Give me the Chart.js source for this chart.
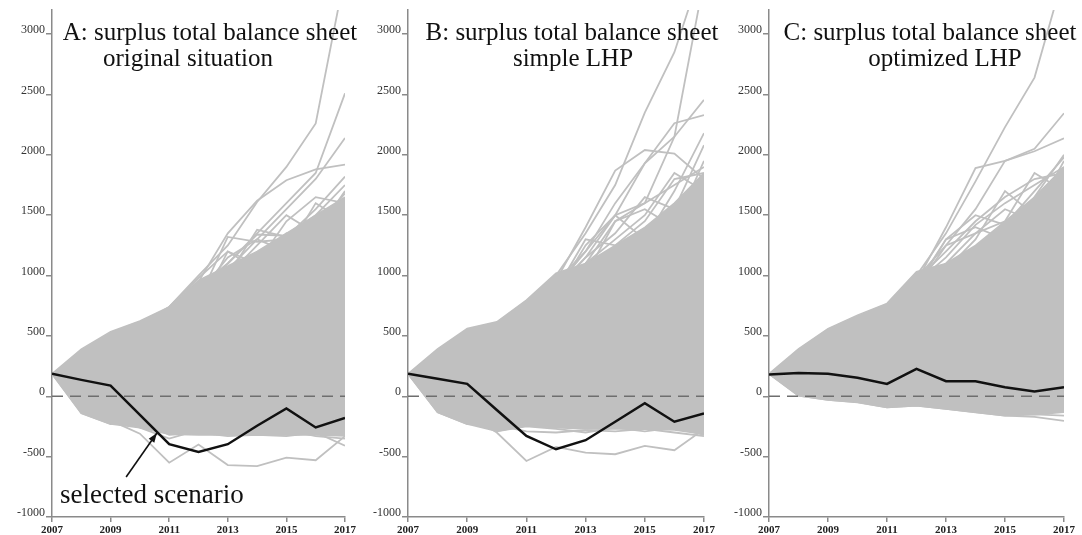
<!DOCTYPE html>
<html>
<head>
<meta charset="utf-8">
<script src="https://cdn.jsdelivr.net/npm/chart.js@4.4.1/dist/chart.umd.min.js"></script>
<style>
  body { margin: 0; background: #fff; width: 1082px; height: 535px; position: relative; overflow: hidden; }
  canvas { position: absolute; top: 0; }
</style>
</head>
<body>
<canvas id="chartA" width="380" height="535" style="left:0px"></canvas>
<canvas id="chartB" width="375" height="535" style="left:355px"></canvas>
<canvas id="chartC" width="367" height="535" style="left:715px"></canvas>
<script>
const years = [2007, 2008, 2009, 2010, 2011, 2012, 2013, 2014, 2015, 2016, 2017];
const xTicks = [2007, 2009, 2011, 2013, 2015, 2017];
const yTicks = [-1000, -500, 0, 500, 1000, 1500, 2000, 2500, 3000];

// A: original situation
const selectedA = [186, 136, 89, -154, -397, -461, -397, -244, -100, -258, -180];
const bandTopA = [186, 390, 535, 625, 740, 960, 1080, 1200, 1350, 1500, 1650];
const bandBottomA = [186, -140, -230, -260, -314, -320, -320, -320, -320, -320, -328];
const spreadA = [
  [186, 300, 450, 600, 740, 1000, 1250, 1610, 1900, 2260, 3500],
  [186, 320, 470, 560, 700, 900, 1100, 1350, 1600, 1850, 2510],
  [186, 280, 420, 540, 680, 880, 1050, 1300, 1550, 1800, 2140],
  [186, 300, 440, 560, 720, 950, 1350, 1620, 1790, 1880, 1920],
  [186, 290, 420, 520, 650, 820, 1000, 1380, 1320, 1550, 1820],
  [186, 260, 400, 500, 620, 800, 1320, 1280, 1300, 1400, 1680],
  [186, 270, 380, 480, 600, 760, 950, 1150, 1350, 1250, 1500],
  [186, 250, 360, 470, 580, 720, 1200, 1050, 1250, 1450, 1300],
  [186, 280, 430, 550, 700, 900, 1100, 1340, 1330, 1500, 1750],
  [186, 300, 450, 580, 740, 980, 1200, 1100, 1450, 1650, 1600],
  [186, 270, 400, 520, 660, 850, 1150, 1300, 1200, 1600, 1450],
  [186, 290, 420, 540, 690, 900, 1000, 1250, 1500, 1350, 1700],
  [186, 50, -200, -310, -550, -400, -570, -578, -508, -530, -330],
  [186, -140, -230, -200, -320, -300, -330, -320, -330, -300, -410],
  [186, -100, -180, -260, -350, -280, -250, -300, -280, -330, -350]
];

// B: simple LHP
const selectedB = [186, 145, 103, -114, -328, -439, -364, -211, -58, -211, -142];
const bandTopB = [186, 394, 561, 617, 797, 1019, 1100, 1250, 1400, 1600, 1850];
const bandBottomB = [186, -133, -230, -290, -245, -260, -270, -270, -270, -280, -314];
const spreadB = [
  [186, 300, 450, 600, 780, 1000, 1350, 1750, 2350, 2850, 3600],
  [186, 320, 470, 590, 750, 950, 1100, 1450, 1600, 2150, 3450],
  [186, 300, 440, 560, 720, 900, 1200, 1600, 1930, 2262, 2330],
  [186, 290, 430, 550, 700, 880, 1150, 1500, 1930, 2150, 2455],
  [186, 280, 420, 540, 690, 960, 1400, 1870, 2040, 2010, 1800],
  [186, 270, 400, 520, 650, 850, 1250, 1500, 1300, 1700, 2180],
  [186, 260, 380, 500, 620, 800, 1100, 1300, 1500, 1850, 1700],
  [186, 250, 370, 480, 600, 780, 1000, 1450, 1550, 1400, 1950],
  [186, 290, 430, 560, 720, 950, 1200, 1500, 1600, 1750, 1900],
  [186, 280, 410, 530, 680, 900, 1150, 1350, 1650, 1550, 2080],
  [186, 270, 400, 520, 660, 880, 1300, 1250, 1450, 1800, 1850],
  [186, 50, -150, -300, -536, -420, -467, -480, -411, -447, -272],
  [186, -133, -230, -240, -290, -300, -280, -290, -270, -300, -330],
  [186, -100, -180, -290, -250, -270, -300, -260, -290, -260, -320]
];

// C: optimized LHP
const selectedC = [180, 192, 186, 153, 103, 228, 125, 125, 75, 39, 75];
const bandTopC = [186, 394, 561, 672, 770, 1033, 1100, 1250, 1450, 1650, 1900];
const bandBottomC = [186, 5, -30, -50, -92, -78, -105, -133, -161, -153, -133];
const spreadC = [
  [186, 300, 470, 620, 760, 1000, 1350, 1780, 2230, 2640, 3500],
  [186, 320, 480, 600, 740, 980, 1250, 1550, 1950, 2050, 2345],
  [186, 310, 460, 590, 730, 950, 1400, 1890, 1950, 2030, 2137],
  [186, 290, 440, 570, 700, 900, 1300, 1500, 1420, 1700, 1980],
  [186, 280, 420, 560, 690, 940, 1150, 1420, 1600, 1750, 1900],
  [186, 270, 400, 540, 680, 900, 1250, 1350, 1450, 1850, 1700],
  [186, 260, 390, 520, 660, 860, 1050, 1300, 1700, 1500, 1950],
  [186, 290, 440, 580, 720, 960, 1200, 1450, 1650, 1800, 1850],
  [186, 280, 420, 560, 700, 920, 1300, 1400, 1300, 1650, 2000],
  [186, 270, 410, 540, 690, 900, 1100, 1350, 1550, 1450, 1750],
  [186, 5, -30, -50, -92, -78, -105, -133, -161, -170, -203],
  [186, 30, -10, -30, -60, -70, -90, -110, -140, -150, -160]
];

const FONT = '"Liberation Serif", "Times New Roman", serif';
const GRAY = '#c0c0c0';
const AXIS = '#8a8a8a';

function pts(vals) {
  return years.map((yr, i) => ({ x: yr, y: vals[i] }));
}

function makePanel(id, p) {
  const datasets = [
    { data: pts(p.selected), borderColor: '#111', borderWidth: 2.5, order: 0 },
    { data: [{ x: 2007, y: 0 }, { x: 2017, y: 0 }], borderColor: '#6e6e6e', borderWidth: 1.5, borderDash: [11, 7], order: 1 },
    ...p.spread.map(v => ({ data: pts(v), borderColor: GRAY, borderWidth: 1.8, order: 2 })),
    { data: pts(p.bandTop), borderColor: GRAY, borderWidth: 1.5, backgroundColor: GRAY, fill: '+1', order: 3 },
    { data: pts(p.bandBottom), borderColor: GRAY, borderWidth: 1.5, order: 3 }
  ];

  // title lines + optional arrow note
  const textPlugin = {
    id: 'panelText',
    afterDraw(chart) {
      const ctx = chart.ctx;
      ctx.save();
      ctx.fillStyle = '#111';
      ctx.textAlign = 'center';
      ctx.font = '25px ' + FONT;
      ctx.fillText(p.title[0], p.titleX[0], 40);
      ctx.fillText(p.title[1], p.titleX[1], 66);
      if (p.note) {
        const xs = chart.scales.x, ys = chart.scales.y;
        const hx = xs.getPixelForValue(2010.58), hy = ys.getPixelForValue(-304);
        const tx = xs.getPixelForValue(2009.53), ty = ys.getPixelForValue(-669);
        ctx.strokeStyle = '#111';
        ctx.lineWidth = 1.6;
        ctx.beginPath();
        ctx.moveTo(tx, ty);
        ctx.lineTo(hx, hy);
        ctx.stroke();
        const a = Math.atan2(hy - ty, hx - tx);
        ctx.fillStyle = '#111';
        ctx.beginPath();
        ctx.moveTo(hx, hy);
        ctx.lineTo(hx - 10 * Math.cos(a - 0.35), hy - 10 * Math.sin(a - 0.35));
        ctx.lineTo(hx - 10 * Math.cos(a + 0.35), hy - 10 * Math.sin(a + 0.35));
        ctx.closePath();
        ctx.fill();
        ctx.textAlign = 'left';
        ctx.font = '27px ' + FONT;
        ctx.fillText(p.note, xs.left + 8, ys.getPixelForValue(-880));
      }
      ctx.restore();
    }
  };

  return new Chart(document.getElementById(id), {
    type: 'line',
    data: { datasets },
    plugins: [textPlugin],
    options: {
      responsive: false,
      animation: false,
      devicePixelRatio: 1,
      layout: { padding: { top: 10, right: p.padRight, left: 0, bottom: 0 } },
      elements: { point: { radius: 0 }, line: { tension: 0, fill: false } },
      plugins: { legend: { display: false }, tooltip: { enabled: false } },
      scales: {
        x: {
          type: 'linear', min: 2007, max: 2017,
          afterBuildTicks: s => { s.ticks = xTicks.map(v => ({ value: v })); },
          afterFit: s => { s.height = 18; },
          border: { color: AXIS, width: 1.5 },
          grid: { drawOnChartArea: false, tickLength: 5, color: AXIS, lineWidth: 1.5 },
          ticks: { font: { family: FONT, size: 11, weight: 'bold' }, color: '#222', padding: 2, maxRotation: 0, autoSkip: false, callback: v => String(v) }
        },
        y: {
          type: 'linear', min: -1000, max: 3200,
          afterBuildTicks: s => { s.ticks = yTicks.map(v => ({ value: v })); },
          afterFit: s => { s.width = p.axisWidth; },
          border: { color: AXIS, width: 1.5 },
          grid: { drawOnChartArea: false, tickLength: 6, color: AXIS, lineWidth: 1.5 },
          ticks: { font: { family: FONT, size: 12 }, color: '#333', padding: 1, labelOffset: -4, callback: v => String(v) }
        }
      }
    }
  });
}

makePanel('chartA', {
  selected: selectedA, bandTop: bandTopA, bandBottom: bandBottomA, spread: spreadA,
  title: ['A: surplus total balance sheet', 'original situation'], titleX: [210, 188],
  axisWidth: 52, padRight: 35, note: 'selected scenario'
});
makePanel('chartB', {
  selected: selectedB, bandTop: bandTopB, bandBottom: bandBottomB, spread: spreadB,
  title: ['B: surplus total balance sheet', 'simple LHP'], titleX: [217, 218],
  axisWidth: 53, padRight: 26
});
makePanel('chartC', {
  selected: selectedC, bandTop: bandTopC, bandBottom: bandBottomC, spread: spreadC,
  title: ['C: surplus total balance sheet', 'optimized LHP'], titleX: [215, 230],
  axisWidth: 54, padRight: 18
});
</script>
</body>
</html>
